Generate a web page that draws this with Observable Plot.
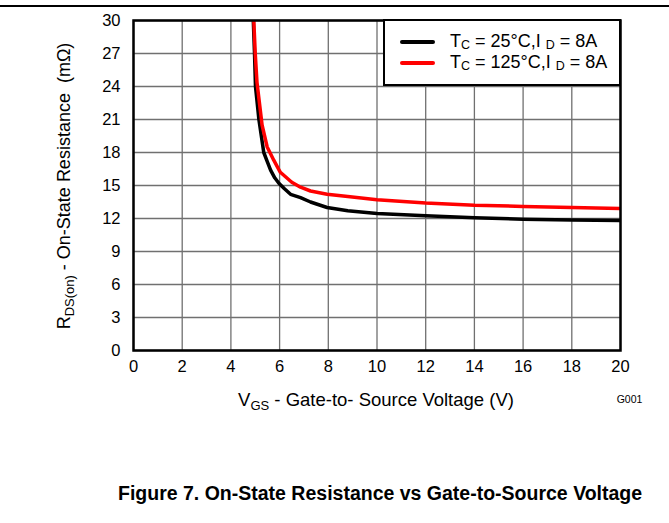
<!DOCTYPE html>
<html><head><meta charset="utf-8">
<script src="https://cdn.jsdelivr.net/npm/d3@7"></script>
<script src="https://cdn.jsdelivr.net/npm/@observablehq/plot@0.6"></script>
<style>
body{margin:0;background:#fff;font-family:"Liberation Sans",Arial,sans-serif;}
#wrap{position:relative;width:669px;height:523px;overflow:hidden;background:#fff}
#topline{position:absolute;left:0;top:5px;width:669px;height:0;border-top:2px solid #000}
#chart{position:absolute;left:0;top:0}
#legend{position:absolute;left:383px;top:19px;width:234px;height:63px;border:2px solid #000;background:#fff;font-size:18px;}
.lrow{position:absolute;left:15px;height:16px;line-height:16px;white-space:nowrap}
.lrow span.sw{display:inline-block;width:35px;height:4px;vertical-align:middle;margin-right:15px;border-radius:2px}
.lrow sub{font-size:12.5px;vertical-align:-2px;line-height:0}
#title{position:absolute;top:482px;left:118px;white-space:nowrap;font-weight:bold;font-size:19.5px;}
</style></head>
<body>
<div id="wrap">
  <div id="topline"></div>
  <div id="chart"></div>
  <div id="legend"></div>
  <div id="title"></div>
</div>
<script>
const xTicks = [0, 2, 4, 6, 8, 10, 12, 14, 16, 18, 20];
const yTicks = [0, 3, 6, 9, 12, 15, 18, 21, 24, 27, 30];
const seriesNames = ["25", "125"];
const seriesColors = ["#000000", "#ff0000"];
const vgs25 = [4.92, 4.97, 5.01, 5.15, 5.35, 5.49, 5.63, 5.8, 5.97, 6.2, 6.45, 6.86, 7.27, 7.95, 8.8, 10, 12, 14, 16, 18, 20];
const r25   = [30, 27, 24, 21, 18, 17.2, 16.4, 15.7, 15.2, 14.7, 14.2, 13.9, 13.5, 13.0, 12.7, 12.45, 12.24, 12.06, 11.94, 11.87, 11.82];
const vgs125 = [4.94, 5.0, 5.07, 5.28, 5.49, 5.76, 6.03, 6.5, 6.86, 7.27, 7.95, 8.8, 10, 12, 14, 16, 18, 20];
const r125   = [30, 27, 24.4, 20.5, 18.5, 17.3, 16.2, 15.3, 14.85, 14.5, 14.2, 14.0, 13.7, 13.4, 13.2, 13.1, 13.0, 12.9];
const titleText = "Figure 7. On-State Resistance vs Gate-to-Source Voltage";

const data = [
  ...vgs25.map((v, i) => ({vgs: v, r: r25[i], s: seriesNames[0]})),
  ...vgs125.map((v, i) => ({vgs: v, r: r125[i], s: seriesNames[1]}))
];

const plot = Plot.plot({
  width: 669,
  height: 440,
  marginLeft: 133,
  marginRight: 49,
  marginTop: 20,
  marginBottom: 90,
  style: {fontFamily: "'Liberation Sans', Arial, sans-serif", fontSize: "16.5px", color: "#000", background: "transparent"},
  x: {domain: [0, 20], ticks: xTicks, label: null, tickSize: 0, tickPadding: 10},
  y: {domain: [0, 30], ticks: yTicks, label: null, tickSize: 0, tickPadding: 13},
  color: {domain: seriesNames, range: seriesColors},
  marks: [
    Plot.gridX(xTicks, {stroke: "#707070", strokeOpacity: 1, strokeWidth: 1.3}),
    Plot.gridY(yTicks, {stroke: "#707070", strokeOpacity: 1, strokeWidth: 1.3}),
    Plot.line(data, {x: "vgs", y: "r", z: "s", stroke: "s", strokeWidth: 3.5, clip: true}),
    Plot.frame({stroke: "#000", strokeWidth: 2.5}),
    Plot.axisX({ticks: xTicks, tickSize: 0, tickPadding: 10, fontSize: 16.5}),
    Plot.axisY({ticks: yTicks, tickSize: 0, tickPadding: 13, fontSize: 16.5})
  ]
});
document.getElementById("chart").appendChild(plot);

const svg = d3.select(plot);
svg.selectAll('g[aria-label$="tick label"]').attr("font-size", 16.5).selectAll("text").attr("font-size", 16.5);
// x axis label
const xl = svg.append("text").attr("x", 376).attr("y", 406).attr("text-anchor", "middle")
  .attr("font-size", 18.5).attr("fill", "#000");
xl.append("tspan").text("V");
xl.append("tspan").attr("font-size", 13).attr("dy", 3.5).text("GS");
xl.append("tspan").attr("dy", -3.5).text(" - Gate-to- Source Voltage (V)");
// y axis label
const yl = svg.append("text").attr("transform", "translate(70,186) rotate(-90)").attr("text-anchor", "middle")
  .attr("font-size", 18).attr("fill", "#000");
yl.append("tspan").text("R");
yl.append("tspan").attr("font-size", 13).attr("dy", 3.5).text("DS(on)");
yl.append("tspan").attr("dy", -3.5).text(" - On-State Resistance  (m\u03A9)");
// code
svg.append("text").attr("x", 629.5).attr("y", 403).attr("text-anchor", "middle")
  .attr("font-size", 10.5).attr("fill", "#000").text("G001");

// legend
const legendLabels = ["T<sub>C</sub> = 25°C,I <sub>D</sub> = 8A", "T<sub>C</sub> = 125°C,I <sub>D</sub> = 8A"];
const leg = document.getElementById("legend");
seriesNames.forEach((s, i) => {
  const row = document.createElement("div");
  row.className = "lrow";
  row.style.top = (12 + i * 21) + "px";
  row.innerHTML = `<span class="sw" style="background:${seriesColors[i]}"></span>` + legendLabels[i];
  leg.appendChild(row);
});
document.getElementById("title").textContent = titleText;
</script>
</body></html>
